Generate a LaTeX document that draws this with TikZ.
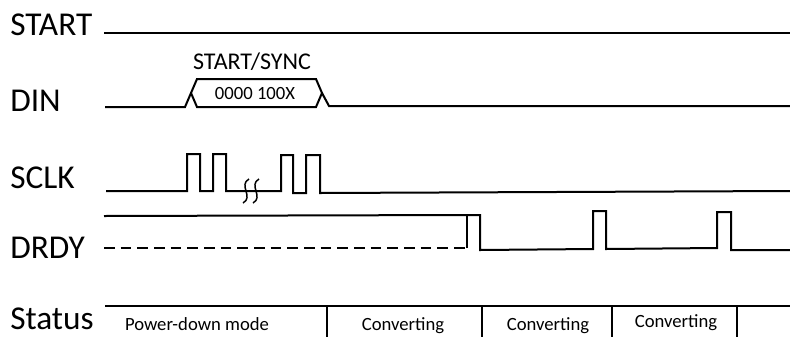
\documentclass[tikz,border=0pt]{standalone}
\usepackage{fontspec}
\setmainfont{Carlito}
\tikzset{
  sig/.style={line width=1.5pt},
  siglabel/.style={font=\fontsize{25}{25}\selectfont, anchor=base west, inner sep=0pt},
  small/.style={font=\fontsize{14}{14}\selectfont, inner sep=0pt},
  squig/.style={line width=1.1pt},
}
\begin{document}
\begin{tikzpicture}[x=0.75pt,y=-0.75pt]
\useasboundingbox (0,0) rectangle (790,337);

% signal names
\node[siglabel] (start) at (10,35) {START};
\node[siglabel] (din) at (10,111) {DIN};
\node[siglabel] (sclk) at (10,188) {SCLK};
\node[siglabel] (drdy) at (10,258) {DRDY};
\node[siglabel] (status) at (10,329) {Status};

% START
\draw[sig] (104,33) -- (790,33);

% DIN
\draw[sig] (105,107) -- (185,107) -- (197,79) -- (316,79) -- (322,93) -- (329,106) -- (790,106);
\draw[sig] (191,93) -- (197,107) -- (316,107) -- (322,93);
\node[font=\fontsize{18}{18}\selectfont, inner sep=0pt] (sync) at (252,62) {START/SYNC};
\node[small] (cmd) at (255,94) {0000 100X};

% SCLK
\draw[sig] (106,191) -- (187,191) -- (187,154) -- (200,154) -- (200,191)
  -- (213,191) -- (213,154) -- (226,154) -- (226,191) -- (281,191)
  -- (281,155) -- (293,155) -- (293,193) -- (306,193) -- (306,155)
  -- (320,155) -- (320,193) -- (790,191);
\draw[squig] (249,179) .. controls (238,185) and (254,197) .. (243,203);
\draw[squig] (259,179) .. controls (248,185) and (264,197) .. (253,203);

% DRDY
\draw[sig,dash pattern=on 8pt off 4.5pt] (104,248) -- (467,248);
\draw[sig] (467,248) -- (467,214);
\draw[sig] (104,216) -- (467,215) -- (480,215) -- (480,250) -- (593,249)
  -- (593,211) -- (606,211) -- (606,249) -- (717,248) -- (717,212)
  -- (731,212) -- (731,250) -- (790,250);

% Status
\draw[sig] (105,306) -- (790,306);
\draw[sig] (327,306) -- (327,337);
\draw[sig] (482,306) -- (482,337);
\draw[sig] (612,306) -- (612,337);
\draw[sig] (737,306) -- (737,337);
\node[small,anchor=base] (pd) at (197,330) {Power-down mode};
\node[small,anchor=base] (conv1) at (403,330) {Converting};
\node[small,anchor=base] (conv2) at (548,330) {Converting};
\node[small,anchor=base] (conv3) at (676,327) {Converting};

\end{tikzpicture}
\end{document}
